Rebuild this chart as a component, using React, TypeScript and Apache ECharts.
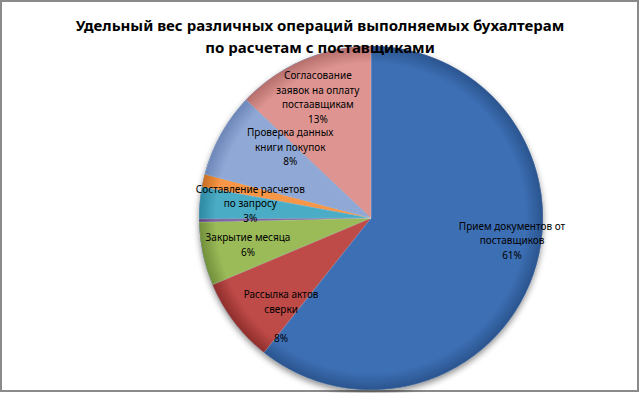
import React, { useEffect, useRef } from "react";
import * as echarts from "echarts";

const titleText = "Удельный вес различных операций выполняемых бухалтерам\nпо расчетам с поставщиками";

const categories = [
  "Прием документов от поставщиков",
  "Рассылка актов сверки",
  "Закрытие месяца",
  "Прочие операции",
  "Составление расчетов по запросу",
  "Иные операции",
  "Проверка данных книги покупок",
  "Согласование заявок на оплату постаавщикам",
];

const values = [61, 8, 6, 0.3, 3, 1.2, 8, 13];

const labelTexts = [
  "Прием документов от\nпоставщиков",
  "Рассылка актов\nсверки\n",
  "Закрытие месяца",
  "",
  "Составление расчетов\nпо запросу",
  "",
  "Проверка данных\nкниги покупок",
  "Согласование\nзаявок на оплату\nпостаавщикам",
];

const showLabel = [true, true, true, false, true, false, true, true];

const labelOffsets = [
  [57, -7],
  [-19, 44],
  [-36, 8],
  [0, 0],
  [-32, -7],
  [0, 0],
  [-3, -28],
  [-18, -39],
];

const baseColors = ["#3D6FB4", "#BE4B48", "#9BBB59", "#7F63A1", "#4BACC6", "#F79646", "#90A8D5", "#DE9592"];
const edgeColors = ["#2A548E", "#8F2E2C", "#718F3A", "#5B4480", "#2D89A2", "#C86F22", "#6C86B8", "#B56E6B"];

const CX = 371;
const CY = 218;
const R = 172;

export default function App() {
  const ref = useRef<HTMLDivElement>(null);

  useEffect(() => {
    if (!ref.current) return;
    const chart = echarts.init(ref.current, null, { renderer: "svg" });

    const data = categories.map((name, i) => ({
      name,
      value: values[i],
      itemStyle: {
        color: new echarts.graphic.RadialGradient(
          CX,
          CY,
          R,
          [
            { offset: 0, color: baseColors[i] },
            { offset: 0.9, color: baseColors[i] },
            { offset: 1, color: edgeColors[i] },
          ],
          true
        ),
      },
      label: { show: showLabel[i], offset: labelOffsets[i] },
    }));

    chart.setOption({
      animation: false,
      backgroundColor: "#ffffff",
      title: {
        text: titleText,
        left: "center",
        top: 9,
        textStyle: {
          fontFamily: "Noto Sans",
          fontSize: 15,
          fontWeight: "bold",
          color: "#000000",
          lineHeight: 22,
        },
      },
      graphic: [
        {
          type: "rect",
          shape: { x: 1, y: 1, width: 637, height: 390 },
          style: { fill: "none", stroke: "#8a8a8a", lineWidth: 2 },
          z: 0,
        },
        {
          type: "circle",
          shape: { cx: CX, cy: CY, r: R },
          style: {
            fill: "#2A548E",
            shadowBlur: 6,
            shadowColor: "rgba(0,0,0,0.45)",
            shadowOffsetY: 3,
          },
          z: 0,
        },
      ],
      series: [
        {
          type: "pie",
          center: [CX, CY],
          radius: R,
          startAngle: 90,
          clockwise: true,
          percentPrecision: 0,
          avoidLabelOverlap: false,
          labelLayout: { hideOverlap: false },
          itemStyle: {
            borderColor: "rgba(255,255,255,0.35)",
            borderWidth: 0.5,
          },
          label: {
            show: true,
            position: "inside",
            fontFamily: "Noto Sans",
            fontSize: 10,
            lineHeight: 14.5,
            color: "#000000",
            align: "center",
            formatter: (p: any) => labelTexts[p.dataIndex] + "\n" + p.percent + "%",
          },
          labelLine: { show: false },
          emphasis: { disabled: true },
          data,
        },
      ],
    });

    return () => chart.dispose();
  }, []);

  return (
    <div
      ref={ref}
      style={{ position: "fixed", left: 0, top: 0, width: 640, height: 393 }}
    />
  );
}
